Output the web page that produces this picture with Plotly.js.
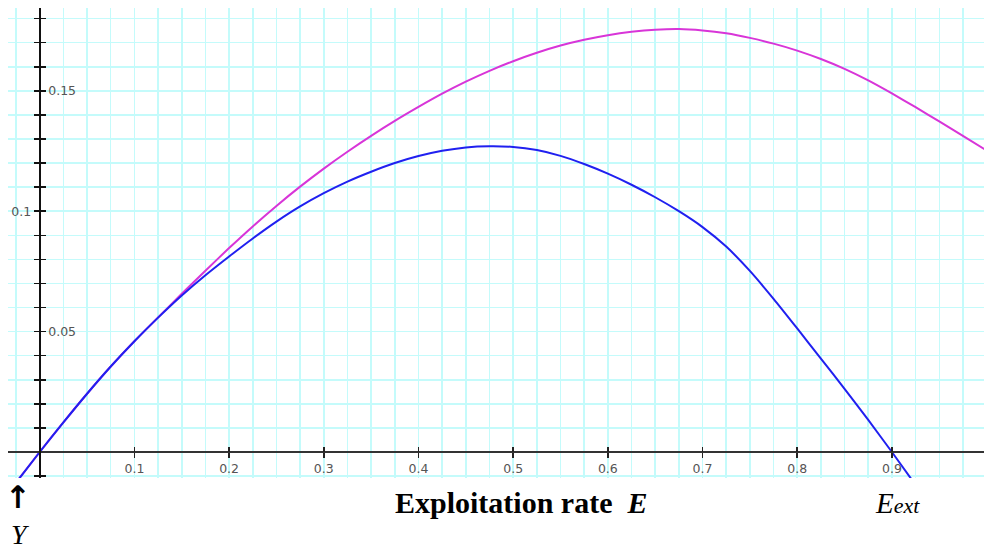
<!DOCTYPE html>
<html>
<head>
<meta charset="utf-8">
<script src="https://cdn.plot.ly/plotly-3.0.1.min.js"></script>
<style>
  html, body { margin: 0; padding: 0; background: #ffffff; overflow: hidden; }
  #chart { width: 990px; height: 550px; }
</style>
</head>
<body>
<div id="chart"></div>
<script>
// Exploitation rate E (x) and yield Y (y)
const eMagenta = [-0.025, 0, 0.025, 0.05, 0.075, 0.1, 0.125, 0.15, 0.175, 0.2, 0.225, 0.25, 0.275, 0.3, 0.325, 0.35, 0.375, 0.4, 0.425, 0.45, 0.475, 0.5, 0.525, 0.55, 0.575, 0.6, 0.625, 0.65, 0.675, 0.7, 0.725, 0.75, 0.775, 0.8, 0.825, 0.85, 0.875, 0.9, 0.925, 0.95, 0.975, 1.0];
const yMagenta = [-0.0127, 0, 0.0123, 0.0242, 0.0355, 0.0460, 0.0559, 0.0657, 0.0753, 0.0847, 0.0937, 0.1022, 0.1102, 0.1177, 0.1247, 0.1313, 0.1375, 0.1433, 0.1488, 0.1538, 0.1583, 0.1623, 0.1658, 0.1688, 0.1712, 0.1731, 0.1745, 0.1754, 0.1757, 0.1751, 0.1739, 0.1720, 0.1696, 0.1667, 0.1632, 0.1591, 0.1543, 0.1489, 0.1432, 0.1373, 0.1313, 0.1252];

const eBlue = [-0.025, 0, 0.025, 0.05, 0.075, 0.1, 0.125, 0.15, 0.175, 0.2, 0.225, 0.25, 0.275, 0.3, 0.325, 0.35, 0.375, 0.4, 0.425, 0.45, 0.475, 0.5, 0.525, 0.55, 0.575, 0.6, 0.625, 0.65, 0.675, 0.7, 0.725, 0.75, 0.775, 0.8, 0.825, 0.85, 0.875, 0.9, 0.925];
const yBlue = [-0.0127, 0, 0.0123, 0.0242, 0.0355, 0.0460, 0.0558, 0.0650, 0.0734, 0.0812, 0.0887, 0.0957, 0.1020, 0.1075, 0.1123, 0.1164, 0.1200, 0.1229, 0.1251, 0.1265, 0.1270, 0.1267, 0.1254, 0.1230, 0.1196, 0.1156, 0.1110, 0.1058, 0.1000, 0.0934, 0.0853, 0.0752, 0.0636, 0.0513, 0.0388, 0.0262, 0.0133, 0.0000, -0.0137];

// Axis ticks and labels
const xTickVals = [0.1, 0.2, 0.3, 0.4, 0.5, 0.6, 0.7, 0.8, 0.9, 1.0];
const xTickText = ['0.1', '0.2', '0.3', '0.4', '0.5', '0.6', '0.7', '0.8', '0.9', '1'];
const yTickVals = [-0.01, 0.01, 0.02, 0.03, 0.04, 0.05, 0.06, 0.07, 0.08, 0.09, 0.1, 0.11, 0.12, 0.13, 0.14, 0.15, 0.16, 0.17, 0.18];
const yTickTextLeft = ['', '', '', '', '', '', '', '', '', '', '0.1', '', '', '', '', '', '', '', ''];
const yTickTextRight = ['', '', '', '', '', '0.05', '', '', '', '', '', '', '', '', '', '0.15', '', '', ''];

const xRange = [-0.0335, 1.0036];
const yRange = [-0.0108, 0.1844];
const xZeroPos = (0 - xRange[0]) / (xRange[1] - xRange[0]);
const yZeroPos = (0 - yRange[0]) / (yRange[1] - yRange[0]);

const gridColor = '#c4fbfb';
const tickFont = { family: 'DejaVu Sans, Verdana, sans-serif', size: 12.5, color: '#555555' };

const traces = [
  { x: eMagenta, y: yMagenta, mode: 'lines', line: { color: '#d835d8', width: 2, shape: 'spline', smoothing: 0.6 }, hoverinfo: 'skip', showlegend: false },
  { x: eBlue, y: yBlue, mode: 'lines', line: { color: '#2020f0', width: 2, shape: 'spline', smoothing: 0.6 }, hoverinfo: 'skip', showlegend: false },
  { x: [0], y: [0], xaxis: 'x2', yaxis: 'y2', mode: 'markers', marker: { opacity: 0 }, hoverinfo: 'skip', showlegend: false },
  { x: [0], y: [0], xaxis: 'x3', yaxis: 'y3', mode: 'markers', marker: { opacity: 0 }, hoverinfo: 'skip', showlegend: false }
];

const layout = {
  width: 990,
  height: 550,
  margin: { l: 8, r: 0, t: 8, b: 72 },
  paper_bgcolor: '#ffffff',
  plot_bgcolor: '#ffffff',
  showlegend: false,
  xaxis: {
    range: xRange, tick0: 0, dtick: 0.025, showgrid: true, gridcolor: gridColor, gridwidth: 1.5,
    showticklabels: false, ticks: '', zeroline: false, showline: false, fixedrange: true
  },
  yaxis: {
    range: yRange, tick0: 0, dtick: 0.01, showgrid: true, gridcolor: gridColor, gridwidth: 1.5,
    showticklabels: false, ticks: '', zeroline: false, showline: false, fixedrange: true
  },
  xaxis2: {
    overlaying: 'x', anchor: 'free', position: yZeroPos, side: 'bottom', range: xRange,
    tickmode: 'array', tickvals: xTickVals, ticktext: xTickText,
    ticks: 'outside', ticklen: 5, tickwidth: 1.5, tickcolor: '#222222',
    showline: true, linecolor: '#333333', linewidth: 2,
    showgrid: false, zeroline: false, tickfont: tickFont, fixedrange: true
  },
  xaxis3: {
    overlaying: 'x', anchor: 'free', position: yZeroPos, side: 'top', range: xRange,
    tickmode: 'array', tickvals: xTickVals, showticklabels: false,
    ticks: 'outside', ticklen: 5, tickwidth: 1.5, tickcolor: '#222222',
    showline: false, showgrid: false, zeroline: false, fixedrange: true
  },
  yaxis2: {
    overlaying: 'y', anchor: 'free', position: xZeroPos, side: 'left', range: yRange,
    tickmode: 'array', tickvals: yTickVals, ticktext: yTickTextLeft,
    ticks: 'outside', ticklen: 5, tickwidth: 1.5, tickcolor: '#111111',
    showline: true, linecolor: '#111111', linewidth: 2,
    showgrid: false, zeroline: false, tickfont: tickFont, fixedrange: true
  },
  yaxis3: {
    overlaying: 'y', anchor: 'free', position: xZeroPos, side: 'right', range: yRange,
    tickmode: 'array', tickvals: yTickVals, ticktext: yTickTextRight,
    ticks: 'outside', ticklen: 5, tickwidth: 1.5, tickcolor: '#111111',
    showline: false, showgrid: false, zeroline: false, tickfont: tickFont, fixedrange: true
  },
  annotations: [
    {
      text: '<b>Exploitation rate  <i>E</i></b>', xref: 'paper', yref: 'paper',
      x: (521 - 8) / 982, y: (478 - 503) / 470, xanchor: 'center', yanchor: 'middle',
      showarrow: false, font: { family: 'Liberation Serif, Times New Roman, serif', size: 30, color: '#000000' }
    },
    {
      text: "<i>E<span style='font-size:22px'>ext</span></i>", xref: 'paper', yref: 'paper',
      x: (897 - 8) / 982, y: (478 - 503) / 470, xanchor: 'center', yanchor: 'middle',
      showarrow: false, font: { family: 'Liberation Serif, Times New Roman, serif', size: 29, color: '#000000' }
    },
    {
      text: '<b>↑</b>', xref: 'paper', yref: 'paper',
      x: (18 - 8) / 982, y: (478 - 497) / 470, xanchor: 'center', yanchor: 'middle',
      showarrow: false, font: { family: 'DejaVu Sans, sans-serif', size: 31, color: '#000000' }
    },
    {
      text: '<i>Y</i>', xref: 'paper', yref: 'paper',
      x: (20 - 8) / 982, y: (478 - 534) / 470, xanchor: 'center', yanchor: 'middle',
      showarrow: false, font: { family: 'Liberation Serif, Times New Roman, serif', size: 28, color: '#000000' }
    }
  ]
};

Plotly.newPlot('chart', traces, layout, { staticPlot: true, displayModeBar: false });
</script>
</body>
</html>
